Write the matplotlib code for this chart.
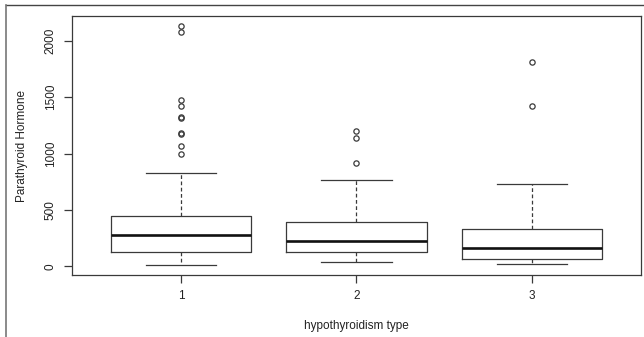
import matplotlib
matplotlib.use("Agg")
import matplotlib.pyplot as plt
from matplotlib.lines import Line2D

plt.rcParams['font.family'] = ['Liberation Sans', 'DejaVu Sans']

# box statistics per hypothyroidism type
groups = ['1', '2', '3']
whislo = [9, 38, 18]
q1 = [124, 124, 65]
med = [277, 221, 159]
q3 = [445, 395, 333]
whishi = [823, 761, 732]
fliers = [
    [997, 1065, 1170, 1185, 1316, 1320, 1425, 1478, 2077, 2133],
    [920, 1135, 1197],
    [1425, 1808],
]
yticks = [0, 500, 1000, 1500, 2000]

stats = []
for i, g in enumerate(groups):
    stats.append(dict(label=g, whislo=whislo[i], q1=q1[i], med=med[i],
                      q3=q3[i], whishi=whishi[i], fliers=fliers[i]))

fig = plt.figure(figsize=(6.44, 3.37), dpi=100)
ax = fig.add_axes([72 / 644, 1 - 275 / 337, (641 - 72) / 644, (275 - 16) / 337])

ink = '#3a3a3a'
ax.bxp(stats, positions=[1, 2, 3], widths=0.8, showfliers=True,
       boxprops=dict(color=ink, linewidth=0.9),
       medianprops=dict(color='#111111', linewidth=1.9),
       whiskerprops=dict(color=ink, linewidth=0.9, linestyle=(0, (3, 2))),
       capprops=dict(color=ink, linewidth=0.9),
       flierprops=dict(marker='o', markerfacecolor='none', markeredgecolor=ink,
                       markersize=3.8, markeredgewidth=0.9))

ax.set_xlim(0.38, 3.62)
ax.set_ylim(-76, 2218)
ax.set_yticks(yticks)
ax.set_yticklabels([str(v) for v in yticks], rotation=90, va='center')
ax.set_xticks([1, 2, 3])
ax.set_xticklabels(groups)
ax.tick_params(axis='both', length=6, width=0.9, color=ink, labelsize=8.5,
               labelcolor='#222222', pad=5)
for s in ax.spines.values():
    s.set_color(ink)
    s.set_linewidth(0.9)

ax.set_xlabel('hypothyroidism type', fontsize=8.5, color='#222222', labelpad=13)
ax.set_ylabel('Parathyroid Hormone', fontsize=8.5, color='#222222', labelpad=12)

# outer frame of the original crop (top and left only)
fig.add_artist(Line2D([6 / 644, 1], [1 - 5 / 337, 1 - 5 / 337],
                      transform=fig.transFigure, color='#444444', lw=1.0))
fig.add_artist(Line2D([6 / 644, 6 / 644], [0, 1 - 5 / 337],
                      transform=fig.transFigure, color='#777777', lw=1.2))

fig.savefig('out.png', dpi=100)
